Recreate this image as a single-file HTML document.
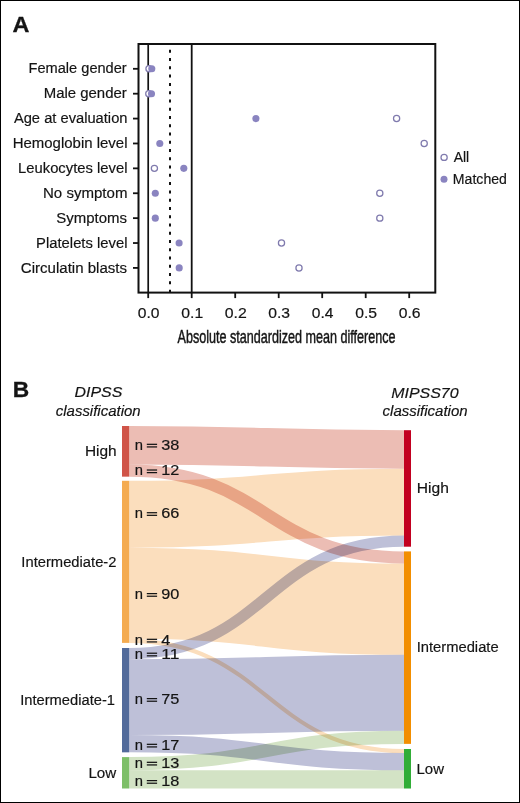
<!DOCTYPE html><html><head><meta charset="utf-8"><style>html,body{margin:0;padding:0;background:#fff;}svg{display:block;}text{font-family:"Liberation Sans",sans-serif;}.mb{mix-blend-mode:multiply;}</style></head><body>
<svg width="520" height="803" viewBox="0 0 520 803">
<rect x="0" y="0" width="520" height="803" fill="#fff"/>
<rect x="0.5" y="0.5" width="519" height="802" fill="none" stroke="#000" stroke-width="1"/>
<text x="12.51" y="31.90" font-size="22.9" font-weight="bold" textLength="16.92" lengthAdjust="spacingAndGlyphs" fill="#141414" stroke="#141414" stroke-width="0.3">A</text>
<line x1="148.2" y1="44.0" x2="148.2" y2="292.6" stroke="#111" stroke-width="1.7"/>
<line x1="170" y1="45.0" x2="170" y2="292.6" stroke="#111" stroke-width="2" stroke-dasharray="3 5.27" stroke-dashoffset="-4.8"/>
<line x1="191.7" y1="44.0" x2="191.7" y2="292.6" stroke="#111" stroke-width="1.8"/>
<rect x="138.5" y="44.0" width="296.8" height="248.60000000000002" fill="none" stroke="#111" stroke-width="2"/>
<line x1="133.0" y1="68.80" x2="138.5" y2="68.80" stroke="#111" stroke-width="1.8"/>
<text x="28.53" y="73.40" font-size="15.2" textLength="98.21" lengthAdjust="spacingAndGlyphs" fill="#141414" stroke="#141414" stroke-width="0.18">Female gender</text>
<line x1="133.0" y1="93.69" x2="138.5" y2="93.69" stroke="#111" stroke-width="1.8"/>
<text x="43.70" y="98.29" font-size="15.2" textLength="83.08" lengthAdjust="spacingAndGlyphs" fill="#141414" stroke="#141414" stroke-width="0.18">Male gender</text>
<line x1="133.0" y1="118.58" x2="138.5" y2="118.58" stroke="#111" stroke-width="1.8"/>
<text x="13.90" y="123.18" font-size="15.2" textLength="113.60" lengthAdjust="spacingAndGlyphs" fill="#141414" stroke="#141414" stroke-width="0.18">Age at evaluation</text>
<line x1="133.0" y1="143.47" x2="138.5" y2="143.47" stroke="#111" stroke-width="1.8"/>
<text x="12.70" y="148.07" font-size="15.2" textLength="114.79" lengthAdjust="spacingAndGlyphs" fill="#141414" stroke="#141414" stroke-width="0.18">Hemoglobin level</text>
<line x1="133.0" y1="168.36" x2="138.5" y2="168.36" stroke="#111" stroke-width="1.8"/>
<text x="18.02" y="172.96" font-size="15.2" textLength="109.49" lengthAdjust="spacingAndGlyphs" fill="#141414" stroke="#141414" stroke-width="0.18">Leukocytes level</text>
<line x1="133.0" y1="193.25" x2="138.5" y2="193.25" stroke="#111" stroke-width="1.8"/>
<text x="43.00" y="197.85" font-size="15.2" textLength="84.44" lengthAdjust="spacingAndGlyphs" fill="#141414" stroke="#141414" stroke-width="0.18">No symptom</text>
<line x1="133.0" y1="218.14" x2="138.5" y2="218.14" stroke="#111" stroke-width="1.8"/>
<text x="56.33" y="222.74" font-size="15.2" textLength="70.67" lengthAdjust="spacingAndGlyphs" fill="#141414" stroke="#141414" stroke-width="0.18">Symptoms</text>
<line x1="133.0" y1="243.03" x2="138.5" y2="243.03" stroke="#111" stroke-width="1.8"/>
<text x="36.12" y="247.63" font-size="15.2" textLength="91.35" lengthAdjust="spacingAndGlyphs" fill="#141414" stroke="#141414" stroke-width="0.18">Platelets level</text>
<line x1="133.0" y1="267.92" x2="138.5" y2="267.92" stroke="#111" stroke-width="1.8"/>
<text x="20.85" y="272.52" font-size="15.2" textLength="106.15" lengthAdjust="spacingAndGlyphs" fill="#141414" stroke="#141414" stroke-width="0.18">Circulatin blasts</text>
<line x1="148.20" y1="292.6" x2="148.20" y2="298.1" stroke="#111" stroke-width="1.8"/>
<text x="137.77" y="317.80" font-size="14.4" textLength="21.78" lengthAdjust="spacingAndGlyphs" fill="#141414" stroke="#141414" stroke-width="0.18">0.0</text>
<line x1="191.70" y1="292.6" x2="191.70" y2="298.1" stroke="#111" stroke-width="1.8"/>
<text x="181.27" y="317.80" font-size="14.4" textLength="21.94" lengthAdjust="spacingAndGlyphs" fill="#141414" stroke="#141414" stroke-width="0.18">0.1</text>
<line x1="235.20" y1="292.6" x2="235.20" y2="298.1" stroke="#111" stroke-width="1.8"/>
<text x="224.77" y="317.80" font-size="14.4" textLength="22.03" lengthAdjust="spacingAndGlyphs" fill="#141414" stroke="#141414" stroke-width="0.18">0.2</text>
<line x1="278.70" y1="292.6" x2="278.70" y2="298.1" stroke="#111" stroke-width="1.8"/>
<text x="268.27" y="317.80" font-size="14.4" textLength="21.86" lengthAdjust="spacingAndGlyphs" fill="#141414" stroke="#141414" stroke-width="0.18">0.3</text>
<line x1="322.20" y1="292.6" x2="322.20" y2="298.1" stroke="#111" stroke-width="1.8"/>
<text x="311.78" y="317.80" font-size="14.4" textLength="21.69" lengthAdjust="spacingAndGlyphs" fill="#141414" stroke="#141414" stroke-width="0.18">0.4</text>
<line x1="365.70" y1="292.6" x2="365.70" y2="298.1" stroke="#111" stroke-width="1.8"/>
<text x="355.27" y="317.80" font-size="14.4" textLength="21.86" lengthAdjust="spacingAndGlyphs" fill="#141414" stroke="#141414" stroke-width="0.18">0.5</text>
<line x1="409.20" y1="292.6" x2="409.20" y2="298.1" stroke="#111" stroke-width="1.8"/>
<text x="398.77" y="317.80" font-size="14.4" textLength="21.86" lengthAdjust="spacingAndGlyphs" fill="#141414" stroke="#141414" stroke-width="0.18">0.6</text>
<text x="177.60" y="343.20" font-size="18" textLength="217.99" lengthAdjust="spacingAndGlyphs" fill="#141414" stroke="#141414" stroke-width="0.45">Absolute standardized mean difference</text>
<circle cx="149.0" cy="68.80" r="3.1" fill="#fff" stroke="#807bae" stroke-width="1.25"/>
<circle cx="148.8" cy="93.69" r="3.1" fill="#fff" stroke="#807bae" stroke-width="1.25"/>
<circle cx="396.6" cy="118.58" r="3.1" fill="#fff" stroke="#807bae" stroke-width="1.25"/>
<circle cx="424.2" cy="143.47" r="3.1" fill="#fff" stroke="#807bae" stroke-width="1.25"/>
<circle cx="154.4" cy="168.36" r="3.1" fill="#fff" stroke="#807bae" stroke-width="1.25"/>
<circle cx="379.8" cy="193.25" r="3.1" fill="#fff" stroke="#807bae" stroke-width="1.25"/>
<circle cx="379.8" cy="218.14" r="3.1" fill="#fff" stroke="#807bae" stroke-width="1.25"/>
<circle cx="281.5" cy="243.03" r="3.1" fill="#fff" stroke="#807bae" stroke-width="1.25"/>
<circle cx="299.0" cy="267.92" r="3.1" fill="#fff" stroke="#807bae" stroke-width="1.25"/>
<circle cx="151.8" cy="68.80" r="3.55" fill="#8a84c0"/>
<circle cx="151.5" cy="93.69" r="3.55" fill="#8a84c0"/>
<circle cx="255.9" cy="118.58" r="3.55" fill="#8a84c0"/>
<circle cx="159.8" cy="143.47" r="3.55" fill="#8a84c0"/>
<circle cx="183.8" cy="168.36" r="3.55" fill="#8a84c0"/>
<circle cx="155.3" cy="193.25" r="3.55" fill="#8a84c0"/>
<circle cx="155.3" cy="218.14" r="3.55" fill="#8a84c0"/>
<circle cx="179.1" cy="243.03" r="3.55" fill="#8a84c0"/>
<circle cx="179.2" cy="267.92" r="3.55" fill="#8a84c0"/>
<circle cx="444.1" cy="157.4" r="3.1" fill="#fff" stroke="#807bae" stroke-width="1.25"/>
<circle cx="444" cy="179.2" r="3.5" fill="#8a84c0"/>
<text x="453.70" y="161.65" font-size="14.7" textLength="15.53" lengthAdjust="spacingAndGlyphs" fill="#141414" stroke="#141414" stroke-width="0.18">All</text>
<text x="452.87" y="183.90" font-size="14.7" textLength="54.05" lengthAdjust="spacingAndGlyphs" fill="#141414" stroke="#141414" stroke-width="0.18">Matched</text>
<text x="12.72" y="396.80" font-size="22.9" font-weight="bold" textLength="16.46" lengthAdjust="spacingAndGlyphs" fill="#141414" stroke="#141414" stroke-width="0.3">B</text>
<text x="74.52" y="396.50" font-size="15.5" font-style="italic" textLength="47.75" lengthAdjust="spacingAndGlyphs" fill="#141414" stroke="#141414" stroke-width="0.18">DIPSS</text>
<text x="55.75" y="415.80" font-size="15.5" font-style="italic" textLength="84.91" lengthAdjust="spacingAndGlyphs" fill="#141414" stroke="#141414" stroke-width="0.18">classification</text>
<text x="391.22" y="397.50" font-size="15.5" font-style="italic" textLength="67.35" lengthAdjust="spacingAndGlyphs" fill="#141414" stroke="#141414" stroke-width="0.18">MIPSS70</text>
<text x="382.55" y="416.00" font-size="15.5" font-style="italic" textLength="85.11" lengthAdjust="spacingAndGlyphs" fill="#141414" stroke="#141414" stroke-width="0.18">classification</text>
<path class="mb" d="M129.2,445.25C266.60,445.25 266.60,449.45 404.0,449.45" fill="none" stroke="#ecbdb4" stroke-width="38.49"/>
<path class="mb" d="M129.2,470.57C266.60,470.57 266.60,557.48 404.0,557.48" fill="none" stroke="#ecbdb4" stroke-width="12.16"/>
<path class="mb" d="M129.2,514.23C266.60,514.23 266.60,502.12 404.0,502.12" fill="none" stroke="#fbdebd" stroke-width="66.86"/>
<path class="mb" d="M129.2,593.24C266.60,593.24 266.60,609.14 404.0,609.14" fill="none" stroke="#fbdebd" stroke-width="91.17"/>
<path class="mb" d="M129.2,640.85C266.60,640.85 266.60,751.03 404.0,751.03" fill="none" stroke="#fbdebd" stroke-width="4.05"/>
<path class="mb" d="M129.2,653.57C266.60,653.57 266.60,541.12 404.0,541.12" fill="none" stroke="#bec0d8" stroke-width="11.14"/>
<path class="mb" d="M129.2,697.13C266.60,697.13 266.60,692.71 404.0,692.71" fill="none" stroke="#bec0d8" stroke-width="75.97"/>
<path class="mb" d="M129.2,743.73C266.60,743.73 266.60,761.66 404.0,761.66" fill="none" stroke="#bec0d8" stroke-width="17.22"/>
<path class="mb" d="M129.2,763.68C266.60,763.68 266.60,737.29 404.0,737.29" fill="none" stroke="#d3e3c5" stroke-width="13.17"/>
<path class="mb" d="M129.2,779.39C266.60,779.39 266.60,779.39 404.0,779.39" fill="none" stroke="#d3e3c5" stroke-width="18.23"/>
<rect x="122.0" y="426.00" width="7.20" height="50.65" fill="#d05448"/>
<rect x="122.0" y="480.80" width="7.20" height="162.08" fill="#f4ab50"/>
<rect x="122.0" y="648.00" width="7.20" height="104.34" fill="#526b9b"/>
<rect x="122.0" y="757.10" width="7.20" height="31.40" fill="#7dbf68"/>
<rect x="404.0" y="430.20" width="7.00" height="116.49" fill="#c20020"/>
<rect x="404.0" y="551.40" width="7.00" height="192.47" fill="#f28e00"/>
<rect x="404.0" y="749.00" width="7.00" height="39.51" fill="#31ad37"/>
<text x="84.96" y="455.90" font-size="15.2" textLength="31.77" lengthAdjust="spacingAndGlyphs" fill="#141414" stroke="#141414" stroke-width="0.18">High</text>
<text x="21.37" y="566.80" font-size="15.2" textLength="95.11" lengthAdjust="spacingAndGlyphs" fill="#141414" stroke="#141414" stroke-width="0.18">Intermediate-2</text>
<text x="20.18" y="705.20" font-size="15.2" textLength="94.83" lengthAdjust="spacingAndGlyphs" fill="#141414" stroke="#141414" stroke-width="0.18">Intermediate-1</text>
<text x="88.39" y="777.60" font-size="15.2" textLength="27.81" lengthAdjust="spacingAndGlyphs" fill="#141414" stroke="#141414" stroke-width="0.18">Low</text>
<text x="416.75" y="493.20" font-size="15.2" textLength="32.09" lengthAdjust="spacingAndGlyphs" fill="#141414" stroke="#141414" stroke-width="0.18">High</text>
<text x="416.67" y="652.40" font-size="15.2" textLength="81.97" lengthAdjust="spacingAndGlyphs" fill="#141414" stroke="#141414" stroke-width="0.18">Intermediate</text>
<text x="416.50" y="773.70" font-size="15.2" textLength="27.49" lengthAdjust="spacingAndGlyphs" fill="#141414" stroke="#141414" stroke-width="0.18">Low</text>
<text x="134.84" y="449.70" font-size="14" textLength="8.24" lengthAdjust="spacingAndGlyphs" fill="#141414" stroke="#141414" stroke-width="0.18">n</text>
<rect x="146.8" y="443.70" width="10.3" height="1.25" fill="#141414"/>
<rect x="146.8" y="446.30" width="10.3" height="1.25" fill="#141414"/>
<text x="161.29" y="449.70" font-size="14" textLength="18.10" lengthAdjust="spacingAndGlyphs" fill="#141414" stroke="#141414" stroke-width="0.18">38</text>
<text x="134.84" y="475.40" font-size="14" textLength="8.24" lengthAdjust="spacingAndGlyphs" fill="#141414" stroke="#141414" stroke-width="0.18">n</text>
<rect x="146.8" y="469.40" width="10.3" height="1.25" fill="#141414"/>
<rect x="146.8" y="472.00" width="10.3" height="1.25" fill="#141414"/>
<text x="161.29" y="475.40" font-size="14" textLength="18.10" lengthAdjust="spacingAndGlyphs" fill="#141414" stroke="#141414" stroke-width="0.18">12</text>
<text x="134.84" y="518.10" font-size="14" textLength="8.24" lengthAdjust="spacingAndGlyphs" fill="#141414" stroke="#141414" stroke-width="0.18">n</text>
<rect x="146.8" y="512.10" width="10.3" height="1.25" fill="#141414"/>
<rect x="146.8" y="514.70" width="10.3" height="1.25" fill="#141414"/>
<text x="161.29" y="518.10" font-size="14" textLength="18.10" lengthAdjust="spacingAndGlyphs" fill="#141414" stroke="#141414" stroke-width="0.18">66</text>
<text x="134.84" y="599.00" font-size="14" textLength="8.24" lengthAdjust="spacingAndGlyphs" fill="#141414" stroke="#141414" stroke-width="0.18">n</text>
<rect x="146.8" y="593.00" width="10.3" height="1.25" fill="#141414"/>
<rect x="146.8" y="595.60" width="10.3" height="1.25" fill="#141414"/>
<text x="161.29" y="599.00" font-size="14" textLength="18.10" lengthAdjust="spacingAndGlyphs" fill="#141414" stroke="#141414" stroke-width="0.18">90</text>
<text x="134.84" y="644.70" font-size="14" textLength="8.24" lengthAdjust="spacingAndGlyphs" fill="#141414" stroke="#141414" stroke-width="0.18">n</text>
<rect x="146.8" y="638.70" width="10.3" height="1.25" fill="#141414"/>
<rect x="146.8" y="641.30" width="10.3" height="1.25" fill="#141414"/>
<text x="161.29" y="644.70" font-size="14" textLength="9.05" lengthAdjust="spacingAndGlyphs" fill="#141414" stroke="#141414" stroke-width="0.18">4</text>
<text x="134.84" y="658.60" font-size="14" textLength="8.24" lengthAdjust="spacingAndGlyphs" fill="#141414" stroke="#141414" stroke-width="0.18">n</text>
<rect x="146.8" y="652.60" width="10.3" height="1.25" fill="#141414"/>
<rect x="146.8" y="655.20" width="10.3" height="1.25" fill="#141414"/>
<text x="161.29" y="658.60" font-size="14" textLength="18.10" lengthAdjust="spacingAndGlyphs" fill="#141414" stroke="#141414" stroke-width="0.18">11</text>
<text x="134.84" y="704.00" font-size="14" textLength="8.24" lengthAdjust="spacingAndGlyphs" fill="#141414" stroke="#141414" stroke-width="0.18">n</text>
<rect x="146.8" y="698.00" width="10.3" height="1.25" fill="#141414"/>
<rect x="146.8" y="700.60" width="10.3" height="1.25" fill="#141414"/>
<text x="161.29" y="704.00" font-size="14" textLength="18.10" lengthAdjust="spacingAndGlyphs" fill="#141414" stroke="#141414" stroke-width="0.18">75</text>
<text x="134.84" y="749.70" font-size="14" textLength="8.24" lengthAdjust="spacingAndGlyphs" fill="#141414" stroke="#141414" stroke-width="0.18">n</text>
<rect x="146.8" y="743.70" width="10.3" height="1.25" fill="#141414"/>
<rect x="146.8" y="746.30" width="10.3" height="1.25" fill="#141414"/>
<text x="161.29" y="749.70" font-size="14" textLength="18.10" lengthAdjust="spacingAndGlyphs" fill="#141414" stroke="#141414" stroke-width="0.18">17</text>
<text x="134.84" y="767.70" font-size="14" textLength="8.24" lengthAdjust="spacingAndGlyphs" fill="#141414" stroke="#141414" stroke-width="0.18">n</text>
<rect x="146.8" y="761.70" width="10.3" height="1.25" fill="#141414"/>
<rect x="146.8" y="764.30" width="10.3" height="1.25" fill="#141414"/>
<text x="161.29" y="767.70" font-size="14" textLength="18.10" lengthAdjust="spacingAndGlyphs" fill="#141414" stroke="#141414" stroke-width="0.18">13</text>
<text x="134.84" y="786.00" font-size="14" textLength="8.24" lengthAdjust="spacingAndGlyphs" fill="#141414" stroke="#141414" stroke-width="0.18">n</text>
<rect x="146.8" y="780.00" width="10.3" height="1.25" fill="#141414"/>
<rect x="146.8" y="782.60" width="10.3" height="1.25" fill="#141414"/>
<text x="161.29" y="786.00" font-size="14" textLength="18.10" lengthAdjust="spacingAndGlyphs" fill="#141414" stroke="#141414" stroke-width="0.18">18</text>
</svg></body></html>
